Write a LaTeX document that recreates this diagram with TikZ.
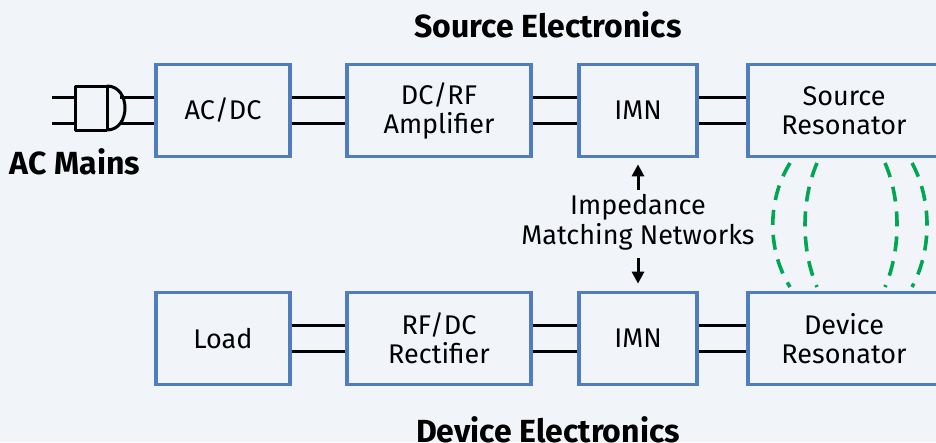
\documentclass[tikz,border=0pt]{standalone}
\usepackage{fontspec}
\setmainfont{Fira Sans}
\usetikzlibrary{arrows.meta}
\definecolor{bg}{RGB}{241,245,250}
\definecolor{boxblue}{RGB}{79,125,190}
\definecolor{wavegreen}{RGB}{0,166,81}
\tikzset{
  blk/.style={draw=boxblue, line width=3.7pt, minimum height=92pt, align=center, inner sep=0pt, font=\fontsize{27}{29}\selectfont},
  wire/.style={line width=3pt, black},
  ttl/.style={font=\bfseries\fontsize{32}{34}\selectfont},
  wave/.style={wavegreen, line width=3.6pt, dash pattern=on 15pt off 10pt},
  ptr/.style={line width=3pt, -{Triangle[length=12pt,width=12pt]}}
}
\begin{document}
\begin{tikzpicture}[x=1pt,y=-1pt]
\fill[bg] (0,0) rectangle (936,442);
\useasboundingbox (0,0) rectangle (936,442);
% top row
\node[blk, minimum width=134pt] (acdc) at (223,110.5) {AC/DC};
\node[blk, minimum width=184pt] (dcrf) at (439,110.5) {DC/RF\\Amplifier};
\node[blk, minimum width=118pt] (imn1) at (638,110.5) {IMN};
\node[blk, minimum width=192pt] (sres) at (844,110.5) {Source\\Resonator};
% bottom row
\node[blk, minimum width=134pt] (load) at (223,338.5) {Load};
\node[blk, minimum width=184pt] (rfdc) at (439,338.5) {RF/DC\\Rectifier};
\node[blk, minimum width=118pt] (imn2) at (638,338.5) {IMN};
\node[blk, minimum width=192pt] (dres) at (844,338.5) {Device\\Resonator};
% titles
\node[ttl] (stitle) at (548,25) {Source Electronics};
\node[ttl] (dtitle) at (548,430) {Device Electronics};
\node[ttl] (mains) at (75,162) {AC Mains};
% double wires
\foreach \a/\b in {acdc/dcrf,dcrf/imn1,imn1/sres,load/rfdc,rfdc/imn2,imn2/dres}{
  \draw[wire] ([yshift=13.5pt]\a.east) -- ([yshift=13.5pt]\b.west);
  \draw[wire] ([yshift=-12.5pt]\a.east) -- ([yshift=-12.5pt]\b.west);
}
% plug
\coordinate (pu) at (120,97);
\coordinate (pd) at (120,123);
\draw[wire] (52,97) -- (75,97);
\draw[wire] (52,123) -- (75,123);
\draw[wire, line join=round] (107,86) -- (75,86) -- (75,130) -- (107,130);
\draw[wire] (107,86) -- (107,130);
\draw[wire] (107,86) .. controls (131,86) and (131,130) .. (107,130);
\draw[wire] (pu) -- (pu -| acdc.west);
\draw[wire] (pd) -- (pd -| acdc.west);
% impedance label and arrows
\node[font=\fontsize{27}{30}\selectfont, align=center, inner sep=0pt] (imnlbl) at (638,222) {Impedance\\Matching Networks};
\draw[ptr, shorten >=6pt] (638,190) -- (imn1.south);
\draw[ptr, shorten >=7pt] (638,258) -- (imn2.north);
% coupling field
\draw[wave] (790,163) .. controls (767,200) and (767,250) .. (790,287);
\draw[wave] (817,163) .. controls (801,200) and (801,250) .. (817,287);
\draw[wave] (885,163) .. controls (901,200) and (901,250) .. (885,287);
\draw[wave] (912,163) .. controls (932,200) and (932,250) .. (912,287);
\end{tikzpicture}
\end{document}
